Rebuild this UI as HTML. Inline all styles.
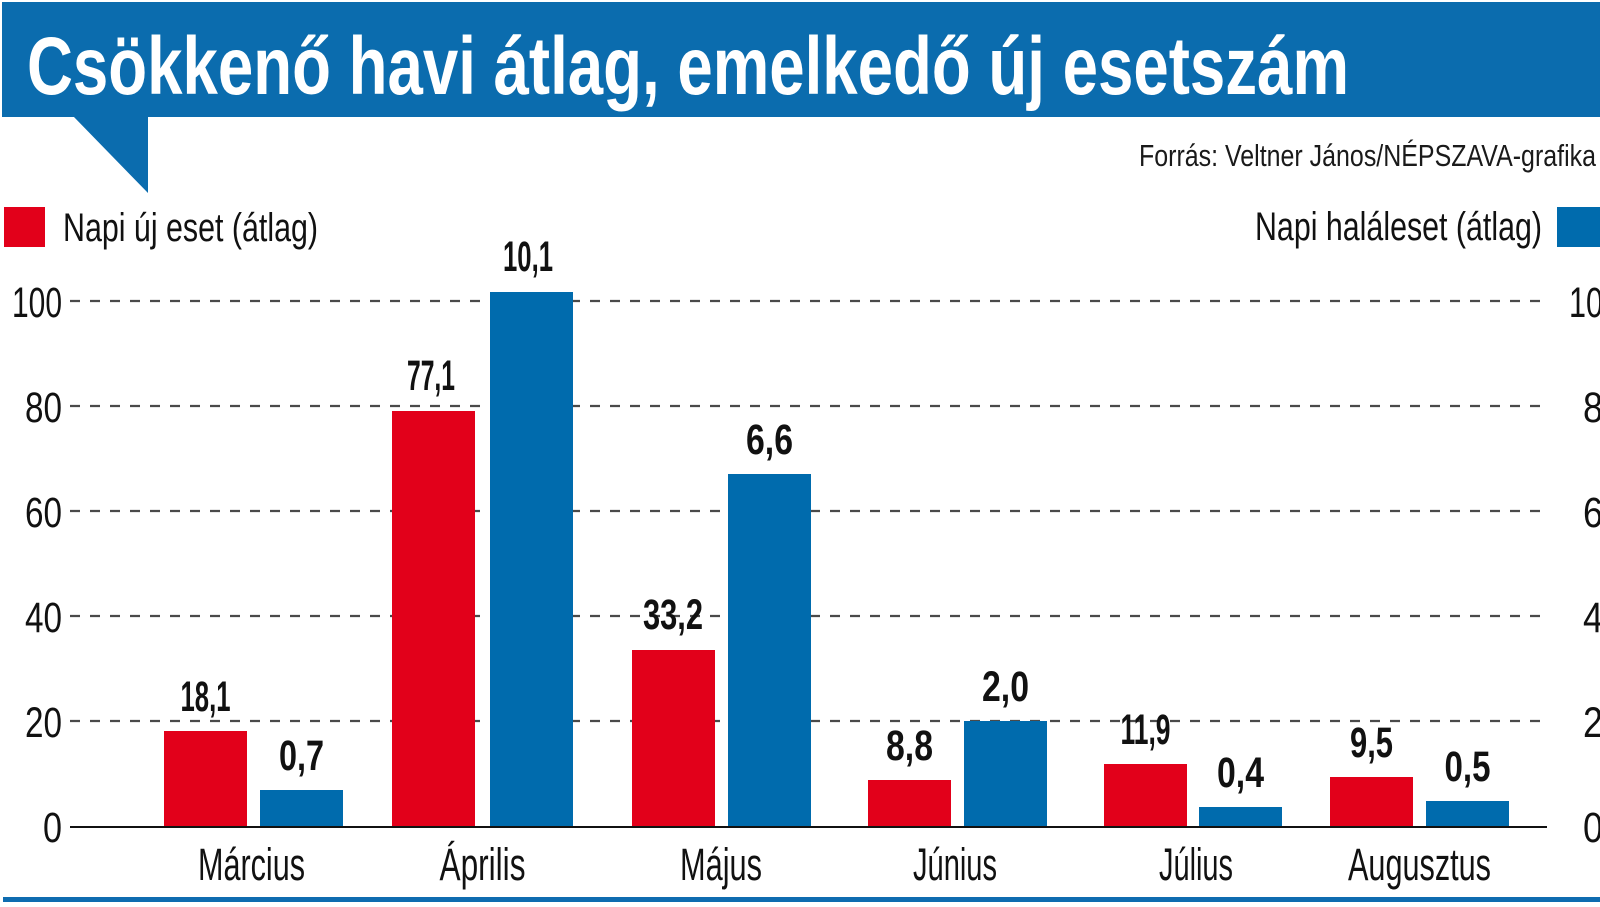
<!DOCTYPE html>
<html>
<head>
<meta charset="utf-8">
<style>
  html,body{margin:0;padding:0;background:#fff;}
  svg{display:block;}
  text{font-family:"Liberation Sans",Arial,sans-serif;}
</style>
</head>
<body>
<svg width="1600" height="907" viewBox="0 0 1600 907" xmlns="http://www.w3.org/2000/svg">
  <rect x="0" y="0" width="1600" height="907" fill="#ffffff"/>

  <!-- Banner -->
  <rect x="2" y="2" width="1598" height="115" fill="#0b6cae"/>
  <polygon points="73,116 148,116 148,193" fill="#0b6cae"/>
  <text x="27" y="94" font-size="82" font-weight="bold" fill="#ffffff" textLength="1322" lengthAdjust="spacingAndGlyphs">Csökkenő havi átlag, emelkedő új esetszám</text>

  <!-- Source -->
  <text x="1139" y="166" font-size="31" fill="#1a1a1a" textLength="457" lengthAdjust="spacingAndGlyphs">Forrás: Veltner János/NÉPSZAVA-grafika</text>

  <!-- Legends -->
  <rect x="4" y="207" width="41" height="40" fill="#e2001a"/>
  <text x="63" y="241" font-size="40" fill="#111" textLength="255" lengthAdjust="spacingAndGlyphs">Napi új eset (átlag)</text>
  <text x="1255" y="240" font-size="40" fill="#111" textLength="287" lengthAdjust="spacingAndGlyphs">Napi haláleset (átlag)</text>
  <rect x="1557" y="207" width="43" height="40" fill="#006bad"/>

  <!-- Gridlines -->
  <g stroke="#4a4a4a" stroke-width="2.2" stroke-dasharray="10 10">
    <line x1="70" y1="301" x2="1547" y2="301"/>
    <line x1="70" y1="406" x2="1547" y2="406"/>
    <line x1="70" y1="511" x2="1547" y2="511"/>
    <line x1="70" y1="616" x2="1547" y2="616"/>
    <line x1="70" y1="721" x2="1547" y2="721"/>
  </g>

  <!-- Left axis labels -->
  <g font-size="43" fill="#111" text-anchor="end">
    <text x="62" y="317" textLength="50" lengthAdjust="spacingAndGlyphs">100</text>
    <text x="62" y="422" textLength="37" lengthAdjust="spacingAndGlyphs">80</text>
    <text x="62" y="527" textLength="37" lengthAdjust="spacingAndGlyphs">60</text>
    <text x="62" y="632" textLength="37" lengthAdjust="spacingAndGlyphs">40</text>
    <text x="62" y="737" textLength="37" lengthAdjust="spacingAndGlyphs">20</text>
    <text x="62" y="842" textLength="19" lengthAdjust="spacingAndGlyphs">0</text>
  </g>

  <!-- Right axis labels -->
  <g font-size="43" fill="#111" text-anchor="end">
    <text x="1603" y="317" textLength="34" lengthAdjust="spacingAndGlyphs">10</text>
    <text x="1603" y="422" textLength="20" lengthAdjust="spacingAndGlyphs">8</text>
    <text x="1603" y="527" textLength="20" lengthAdjust="spacingAndGlyphs">6</text>
    <text x="1603" y="632" textLength="20" lengthAdjust="spacingAndGlyphs">4</text>
    <text x="1603" y="737" textLength="20" lengthAdjust="spacingAndGlyphs">2</text>
    <text x="1603" y="842" textLength="20" lengthAdjust="spacingAndGlyphs">0</text>
  </g>

  <!-- Bars -->
  <g fill="#e2001a">
    <rect x="164" y="731" width="83" height="96"/>
    <rect x="392" y="411" width="83" height="416"/>
    <rect x="632" y="650" width="83" height="177"/>
    <rect x="868" y="780" width="83" height="47"/>
    <rect x="1104" y="764" width="83" height="63"/>
    <rect x="1330" y="777" width="83" height="50"/>
  </g>
  <g fill="#006bad">
    <rect x="260" y="790" width="83" height="37"/>
    <rect x="490" y="292" width="83" height="535"/>
    <rect x="728" y="474" width="83" height="353"/>
    <rect x="964" y="721" width="83" height="106"/>
    <rect x="1199" y="807" width="83" height="20"/>
    <rect x="1426" y="801" width="83" height="26"/>
  </g>

  <!-- Baseline -->
  <line x1="70" y1="827" x2="1547" y2="827" stroke="#111" stroke-width="2"/>

  <!-- Value labels -->
  <g font-size="43" font-weight="bold" fill="#111" text-anchor="middle">
    <text x="205.5" y="711" textLength="50" lengthAdjust="spacingAndGlyphs">18,1</text>
    <text x="301.5" y="770" textLength="45" lengthAdjust="spacingAndGlyphs">0,7</text>
    <text x="431" y="390" textLength="48" lengthAdjust="spacingAndGlyphs">77,1</text>
    <text x="528" y="271" textLength="50" lengthAdjust="spacingAndGlyphs">10,1</text>
    <text x="673" y="629" textLength="60" lengthAdjust="spacingAndGlyphs">33,2</text>
    <text x="769.5" y="454" textLength="47" lengthAdjust="spacingAndGlyphs">6,6</text>
    <text x="909.5" y="760" textLength="47" lengthAdjust="spacingAndGlyphs">8,8</text>
    <text x="1005.5" y="701" textLength="47" lengthAdjust="spacingAndGlyphs">2,0</text>
    <text x="1145.5" y="744" textLength="50" lengthAdjust="spacingAndGlyphs">11,9</text>
    <text x="1240.5" y="787" textLength="47" lengthAdjust="spacingAndGlyphs">0,4</text>
    <text x="1371.5" y="757" textLength="43" lengthAdjust="spacingAndGlyphs">9,5</text>
    <text x="1467.5" y="781" textLength="46" lengthAdjust="spacingAndGlyphs">0,5</text>
  </g>

  <!-- X labels -->
  <g font-size="45" fill="#111" text-anchor="middle">
    <text x="251.5" y="880" textLength="107" lengthAdjust="spacingAndGlyphs">Március</text>
    <text x="482.5" y="880" textLength="86" lengthAdjust="spacingAndGlyphs">Április</text>
    <text x="721" y="880" textLength="82" lengthAdjust="spacingAndGlyphs">Május</text>
    <text x="955" y="880" textLength="84" lengthAdjust="spacingAndGlyphs">Június</text>
    <text x="1196" y="880" textLength="74" lengthAdjust="spacingAndGlyphs">Július</text>
    <text x="1419.5" y="880" textLength="143" lengthAdjust="spacingAndGlyphs">Augusztus</text>
  </g>

  <!-- Bottom rule -->
  <rect x="3" y="897" width="1597" height="5" fill="#0e6cb0"/>
</svg>
</body>
</html>
